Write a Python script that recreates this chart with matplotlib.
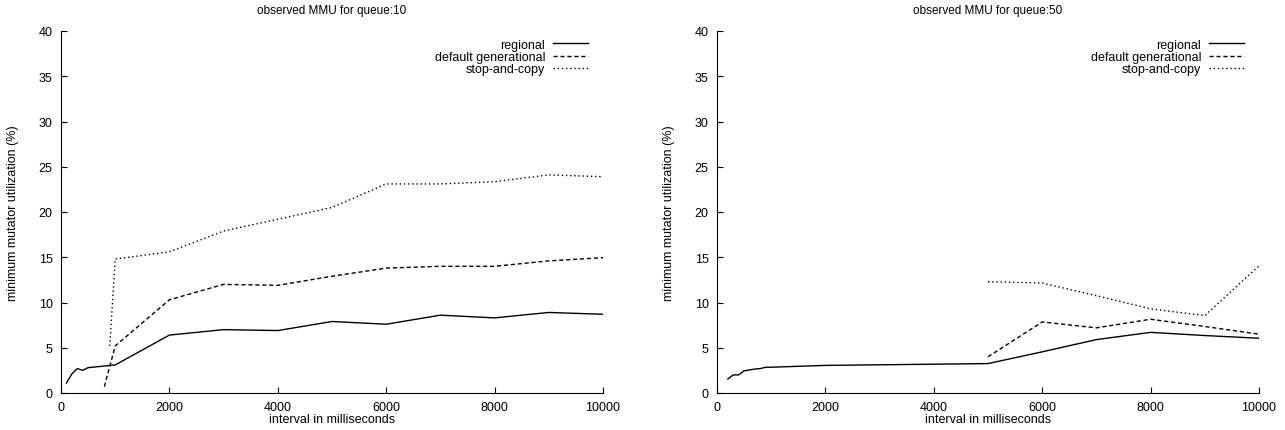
import matplotlib
matplotlib.use('Agg')
import matplotlib.pyplot as plt

#%% general look (gnuplot-ish postscript output)
plt.rcParams['font.family'] = 'Liberation Sans'
plt.rcParams['font.size'] = 9
plt.rcParams['lines.linewidth'] = 1.0

#%% data

# queue:10
q10_regional_x = [100, 200, 300, 400, 500, 1000, 2000, 3000, 4000, 5000, 6000, 7000, 8000, 9000, 10000]
q10_regional_y = [1.1, 2.1, 2.7, 2.5, 2.8, 3.1, 6.4, 7.0, 6.9, 7.9, 7.6, 8.6, 8.3, 8.9, 8.7]
q10_gen_x = [800, 1000, 2000, 3000, 4000, 5000, 6000, 7000, 8000, 9000, 10000]
q10_gen_y = [0.7, 5.2, 10.3, 12.0, 11.9, 12.9, 13.8, 14.0, 14.0, 14.6, 14.95]
q10_sac_x = [900, 1000, 2000, 3000, 4000, 5000, 6000, 7000, 8000, 9000, 10000]
q10_sac_y = [5.2, 14.8, 15.6, 17.9, 19.2, 20.5, 23.1, 23.1, 23.35, 24.1, 23.9]

# queue:50
q50_regional_x = [200, 300, 400, 500, 600, 700, 800, 900, 1000, 2000, 5000, 6000, 7000, 8000, 9000, 10000]
q50_regional_y = [1.55, 2.0, 2.0, 2.45, 2.55, 2.65, 2.7, 2.85, 2.85, 3.05, 3.25, 4.55, 5.9, 6.7, 6.35, 6.05]
q50_gen_x = [5000, 6000, 7000, 8000, 9000, 10000]
q50_gen_y = [4.0, 7.85, 7.2, 8.15, 7.35, 6.5]
q50_sac_x = [5000, 6000, 7000, 8000, 9000, 10000]
q50_sac_y = [12.3, 12.15, 10.75, 9.3, 8.55, 14.05]

titles = ['observed MMU for queue:10', 'observed MMU for queue:50']
series_labels = ['regional', 'default generational', 'stop-and-copy']
styles = ['-', (0, (3, 2)), (0, (1, 2))]

panels = [
    [(q10_regional_x, q10_regional_y), (q10_gen_x, q10_gen_y), (q10_sac_x, q10_sac_y)],
    [(q50_regional_x, q50_regional_y), (q50_gen_x, q50_gen_y), (q50_sac_x, q50_sac_y)],
]

#%% plot

fig = plt.figure(figsize=(12.85, 4.31), dpi=100)
W, H = 1285.0, 431.0
lefts = [61, 717]

for i in range(2):
    ax = fig.add_axes([lefts[i] / W, (H - 394) / H, 542 / W, 362 / H])
    for (xs, ys), ls, lab in zip(panels[i], styles, series_labels):
        ax.plot(xs, ys, color='black', linestyle=ls, label=lab)
    ax.set_xlim(0, 10000)
    ax.set_ylim(0, 40)
    ax.set_xticks(range(0, 10001, 2000))
    ax.set_yticks(range(0, 41, 5))
    ax.spines['top'].set_visible(False)
    ax.spines['right'].set_visible(False)
    ax.tick_params(direction='in', length=4, width=0.8)
    ax.tick_params(axis='y', pad=6)
    ax.tick_params(axis='x', pad=6)
    ax.set_xlabel('interval in milliseconds', labelpad=0)
    ax.set_ylabel('minimum mutator utilization (%)', labelpad=14)
    ax.set_title(titles[i], fontsize=8.5, pad=13)
    ax.legend(loc='upper right', bbox_to_anchor=(0.988, 1.003), frameon=False,
              markerfirst=False, handlelength=2.8, handletextpad=0.6,
              labelspacing=0.02, borderpad=0.2)

plt.savefig('out.png', dpi=100)
plt.close()
